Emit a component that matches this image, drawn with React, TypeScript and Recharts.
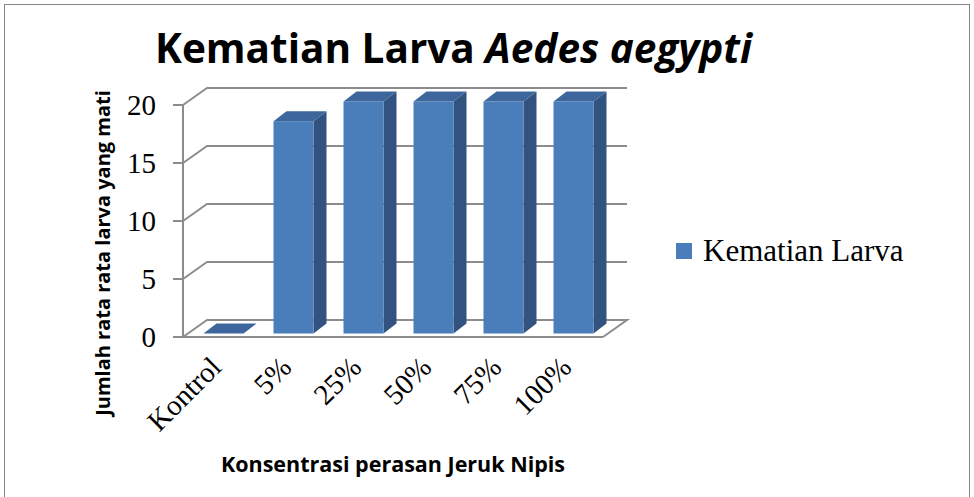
import React from 'react';
import { BarChart, Bar, XAxis, YAxis, CartesianGrid, Legend } from 'recharts';

// data
const categories = ['Kontrol', '5%', '25%', '50%', '75%', '100%'];
const kematianLarva = [0, 18.3, 20, 20, 20, 20];
const yTicks = [0, 5, 10, 15, 20];

const data = categories.map((name, i) => ({ name, kematian: kematianLarva[i] }));

// 3d look: depth of the floor / back wall and of each column
const DEPTH_X = 24;
const DEPTH_Y = 17;
const BAR_DX = 13;
const BAR_DY = 10;
const SHIFT_X = (DEPTH_X - BAR_DX) / 2;
const SHIFT_Y = (DEPTH_Y - BAR_DY) / 2;

const GRID = '#8c8c8c';
const FRONT = '#4a7ebb';
const SIDE = '#32527f';
const TOP = '#3d679c';

const SANS = '"Open Sans", Lato, sans-serif';
const SERIF = '"Liberation Serif", "Times New Roman", serif';

const Bar3D = (props: any) => {
  const { x, y, width, height } = props;
  const fx = x + SHIFT_X;
  const top = y - SHIFT_Y;
  const bottom = y + Math.max(0, height) - SHIFT_Y;
  const w = width;
  return (
    <g>
      <path
        d={`M${fx + w},${top} L${fx + w + BAR_DX},${top - BAR_DY} L${fx + w + BAR_DX},${bottom - BAR_DY} L${fx + w},${bottom} Z`}
        fill={SIDE}
      />
      <rect x={fx} y={top} width={w} height={Math.max(0, bottom - top)} fill={FRONT} />
      <path
        d={`M${fx},${top} L${fx + BAR_DX},${top - BAR_DY} L${fx + w + BAR_DX},${top - BAR_DY} L${fx + w},${top} Z`}
        fill={TOP}
      />
    </g>
  );
};

const renderGridLine = (p: any) => {
  const { x1, x2, y1 } = p;
  const isFloor = y1 >= p.y + p.height - 0.5;
  let d = `M${x1},${y1} L${x1 + DEPTH_X},${y1 - DEPTH_Y} L${x2 + DEPTH_X},${y1 - DEPTH_Y}`;
  if (isFloor) d += ` L${x2},${y1}`;
  return <path key={p.key} d={d} fill="none" stroke={GRID} strokeWidth={2} />;
};

const XTick = (props: any) => {
  const { x, y, payload } = props;
  const ax = x + 5;
  const ay = y + 24;
  return (
    <text
      x={ax}
      y={ay}
      textAnchor="end"
      transform={`rotate(-45, ${ax}, ${ay})`}
      fontFamily={SERIF}
      fontSize={29}
      fill="#000"
    >
      {payload.value}
    </text>
  );
};

const YTitle = (props: any) => {
  const { viewBox } = props;
  const cx = viewBox.x + 19;
  const cy = viewBox.y + viewBox.height / 2 + 32;
  return (
    <text
      x={cx}
      y={cy}
      transform={`rotate(-90, ${cx}, ${cy})`}
      textAnchor="middle"
      dominantBaseline="central"
      fontFamily={SANS}
      fontWeight="bold"
      fontSize={20}
      fill="#000"
    >
      Jumlah rata rata larva yang mati
    </text>
  );
};

const XTitle = (props: any) => {
  const { viewBox } = props;
  return (
    <text
      x={viewBox.x + viewBox.width / 2}
      y={viewBox.y + 126}
      textAnchor="middle"
      dominantBaseline="central"
      fontFamily={SANS}
      fontWeight="bold"
      fontSize={21.5}
      fill="#000"
    >
      Konsentrasi perasan Jeruk Nipis
    </text>
  );
};

const LegendContent = (props: any) => {
  const { payload } = props;
  return (
    <div>
      {(payload || []).map((entry: any) => (
        <div key={entry.value} style={{ display: 'flex', alignItems: 'center' }}>
          <span style={{ width: 16, height: 16, background: FRONT, display: 'inline-block', marginRight: 11 }} />
          <span style={{ fontFamily: SERIF, fontSize: 31, color: '#000', whiteSpace: 'nowrap' }}>
            {entry.value}
          </span>
        </div>
      ))}
    </div>
  );
};

export default function App() {
  return (
    <div
      style={{
        position: 'absolute',
        left: 0,
        top: 0,
        width: 974,
        height: 497,
        overflow: 'hidden',
        background: '#fff',
      }}
    >
      <div
        style={{
          position: 'absolute',
          left: 4,
          top: 4,
          width: 964,
          height: 520,
          border: '1px solid #868686',
        }}
      />
      <div
        style={{
          position: 'absolute',
          left: 155,
          top: 24,
          fontFamily: SANS,
          fontWeight: 'bold',
          fontSize: 40.5,
          color: '#000',
          whiteSpace: 'nowrap',
          lineHeight: 1.2,
        }}
      >
        Kematian Larva <i>Aedes aegypti</i>
      </div>
      <div style={{ position: 'absolute', left: 0, top: 0 }}>
        <BarChart
          width={974}
          height={497}
          data={data}
          margin={{ top: 105, right: 371, bottom: 50, left: 83 }}
          barSize={40}
        >
          <CartesianGrid vertical={false} horizontal={renderGridLine} />
          <XAxis
            dataKey="name"
            height={110}
            tickLine={false}
            axisLine={{ stroke: GRID, strokeWidth: 2 }}
            tick={<XTick />}
            interval={0}
            label={<XTitle />}
          />
          <YAxis
            width={100}
            domain={[0, 20]}
            ticks={yTicks}
            tickSize={10}
            tickMargin={17}
            axisLine={{ stroke: GRID, strokeWidth: 2 }}
            tickLine={{ stroke: GRID, strokeWidth: 2 }}
            tick={{ fontFamily: SERIF, fontSize: 29, fill: '#000' }}
            label={<YTitle />}
          />
          <Legend
            layout="vertical"
            align="center"
            verticalAlign="middle"
            content={<LegendContent />}
            wrapperStyle={{ left: 676, top: 233, width: 290 }}
          />
          <Bar
            dataKey="kematian"
            name="Kematian Larva"
            fill={FRONT}
            shape={<Bar3D />}
            isAnimationActive={false}
          />
        </BarChart>
      </div>
    </div>
  );
}
